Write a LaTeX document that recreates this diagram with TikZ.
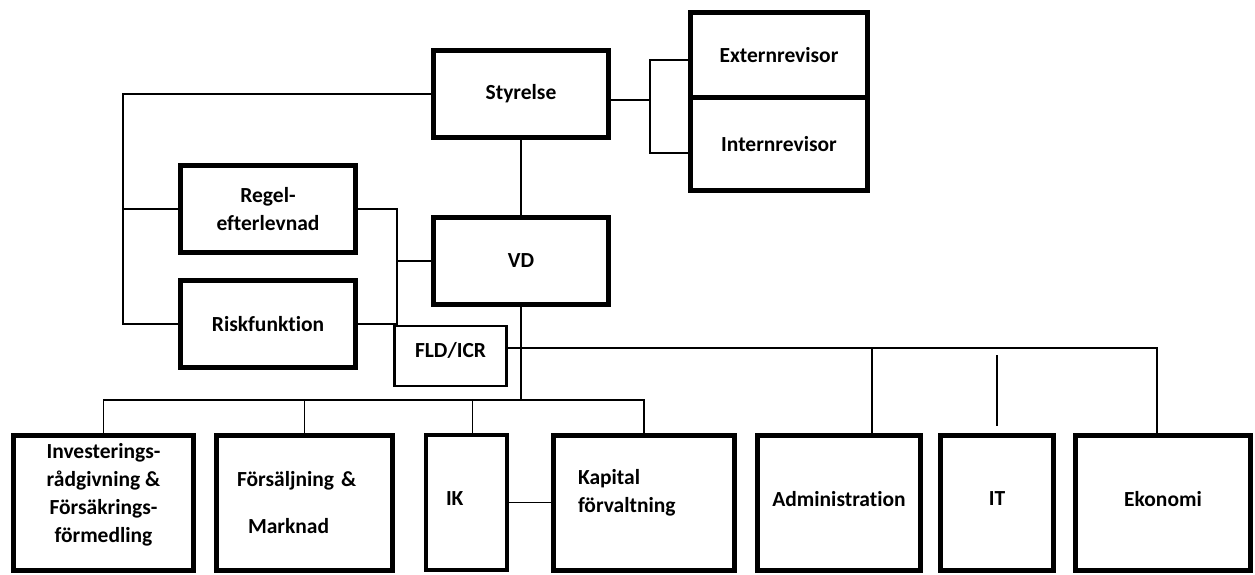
\documentclass[tikz,border=0pt]{standalone}
\usepackage{fontspec}
\setmainfont{Carlito}[Ligatures=NoCommon]
\usepackage{tikz}
\usetikzlibrary {positioning}
\tikzset{
        base/.style={draw, align=center, inner sep=0pt, outer sep=0pt,
                     font=\fontsize{21.5}{28}\selectfont\bfseries},
        unit/.style={base, rectangle, line width=5pt,
                     minimum width=175pt, minimum height=87pt},
        dept/.style={unit, minimum height=135pt, text depth=8pt},
        myline/.style={line width=1.8pt},
 }

\begin{document}
\begin{tikzpicture}[x=1pt, y=-1pt]
        \useasboundingbox (0,0) rectangle (1255,574);

        \node[unit] (sty) at (521,94) {Styrelse};
        \node[unit, minimum width=177pt, minimum height=85pt] (ext)
             at (779,55) {Externrevisor};
        \node[unit, minimum width=177pt, minimum height=93pt,
              below = 0pt of ext] (int) {Internrevisor};
        \node[unit] (regel) at (268,209) {Regel-\\efterlevnad};
        \node[unit] (risk) at (268,324) {Riskfunktion};
        \node[unit] (vd) at (521,261) {VD};
        \node[base, line width=2.5pt, minimum width=112pt,
              minimum height=60pt, text depth=12pt] (fld) at (450.5,356)
             {FLD/ICR};

        \node[dept, minimum width=180pt, text depth=20pt] (inv)
             at (103.5,502.5) {
              Investerings-\\rådgivning \&\\Försäkrings-\\förmedling};
        \node[dept, minimum width=176pt, align=left, text width=135pt,
              text depth={}] (fors) at (304.5,502.5) {
              Försäljning \&\\[19pt]\hspace*{11pt}Marknad};
        \node[dept, line width=4pt, minimum width=81pt, align=left,
              text width=41pt] (ik) at (466.5,502.5) {IK};
        \node[dept, minimum width=181pt, align=left, text width=132pt,
              text depth=52pt] (kap) at (644,502.5) {Kapital\\förvaltning};
        \node[dept, minimum width=163pt] (adm) at (839,502.5)
             {Administration};
        \node[dept, minimum width=113pt] (it) at (997,502.5) {IT};
        \node[dept, minimum width=175pt] (eko) at (1163,502.5) {Ekonomi};

        % hjälppunkter för linjerna
        \coordinate (lbus) at (123,0);
        \coordinate (rbus) at (650,100);
        \coordinate (rtop) at (650,60);
        \coordinate (rbot) at (650,153);
        \coordinate (mbus) at (397,0);
        \coordinate (dbus) at (521,400);
        \coordinate (ebus) at (1157,348);
        \coordinate (atap) at (872,348);
        \coordinate (ittop) at (997,355);

        \draw[myline] (sty.west) -| (lbus |- risk.west) -- (risk.west);
        \draw[myline] (regel.west) -- (lbus |- regel.west);

        \draw[myline] (sty.east |- rbus) -- (rbus);
        \draw[myline] (ext.west |- rtop) -- (rtop) -- (rbot)
             -- (int.west |- rbot);

        \draw[myline] (sty.south) -- (vd.north);
        \draw[myline] (regel.east) -| (mbus |- fld.north);
        \draw[myline] (risk.east) -- (mbus |- risk.east);
        \draw[myline] (vd.west) -- (mbus |- vd.west);

        \draw[myline] (vd.south) -- (dbus);
        \draw[myline] (inv.north) |- (dbus) -| (kap.north);
        \draw[myline] (fors.north) -- (fors.north |- dbus);
        \draw[myline] ([xshift=6pt]ik.north) -- ([xshift=6pt]ik.north |- dbus);
        \draw[myline] (ik.east) -- (kap.west);

        \draw[myline] (fld.east |- ebus) -- (ebus) -- (ebus |- eko.north);
        \draw[myline] (atap) -- (atap |- adm.north);
        \draw[myline, shorten >=9pt] (ittop) -- (it.north);

\end{tikzpicture}
\end{document}
